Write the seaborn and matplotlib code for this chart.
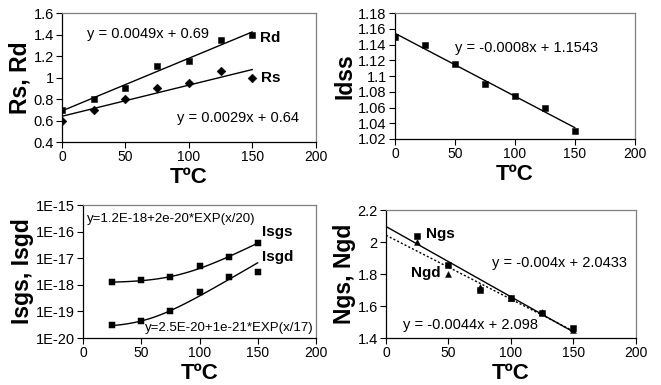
import numpy as np
import pandas as pd
import matplotlib
matplotlib.use("Agg")
import matplotlib.pyplot as plt
import matplotlib.ticker as mticker
import seaborn as sns

# temperatures (deg C)
temp = [0, 25, 50, 75, 100, 125, 150]
temp_ig = [25, 50, 75, 100, 125, 150]

# series
rd = [0.70, 0.80, 0.90, 1.11, 1.15, 1.35, 1.40]
rs = [0.60, 0.70, 0.80, 0.90, 0.95, 1.06, 1.00]
idss = [1.150, 1.140, 1.115, 1.090, 1.075, 1.060, 1.030]
isgs = [1.3e-18, 1.5e-18, 1.9e-18, 5.0e-18, 1.15e-17, 3.7e-17]
isgd = [3.2e-20, 4.2e-20, 1.0e-19, 5.5e-19, 1.9e-18, 3.0e-18]
ngs = [2.04, 1.86, 1.70, 1.65, 1.555, 1.46]
ngd = [2.00, 1.80, 1.72, 1.65, 1.56, 1.45]

sns.set_style("white")
plt.rcParams['font.family'] = ['Liberation Sans', 'DejaVu Sans']
plt.rcParams['text.color'] = 'black'
plt.rcParams['axes.labelcolor'] = 'black'

fig = plt.figure(figsize=(6.61, 3.85), dpi=100)

EQ_SIZE = 10.5


def style_axes(ax, ylabel):
    for side in ['top', 'right']:
        ax.spines[side].set_color('#808080')
    for side in ['left', 'bottom']:
        ax.spines[side].set_color('black')
    for s in ax.spines.values():
        s.set_linewidth(0.9)
    ax.tick_params(direction='out', length=4, width=0.8, pad=2,
                   bottom=True, left=True, colors='black')
    ax.tick_params(axis='x', labelsize=10)
    ax.tick_params(axis='y', labelsize=10.5)
    ax.set_xlim(0, 200)
    ax.set_xticks([0, 50, 100, 150, 200])
    ax.set_xlabel('TºC', fontsize=16, fontweight='bold', labelpad=2)
    ax.set_ylabel(ylabel, fontsize=16.5, fontweight='bold', labelpad=1)
    ax.grid(False)


def fit_line(ax, a, b, x0, x1, ls='-'):
    xs = np.linspace(x0, x1, 50)
    sns.lineplot(x=xs, y=a * xs + b, ax=ax, color='black', lw=1.0,
                 linestyle=ls)


# --- Rs, Rd ---
ax1 = fig.add_axes([0.0938, 0.631, 0.384, 0.335])
fit_line(ax1, 0.0049, 0.69, 0, 150)
fit_line(ax1, 0.0029, 0.64, 0, 150)
sns.scatterplot(x=temp, y=rd, ax=ax1, marker='s', color='black', s=22, edgecolor='black')
sns.scatterplot(x=temp, y=rs, ax=ax1, marker='D', color='black', s=20, edgecolor='black')
ax1.set_ylim(0.4, 1.6)
ax1.set_yticks(np.arange(0.4, 1.61, 0.2))
ax1.yaxis.set_major_formatter(mticker.FormatStrFormatter('%g'))
ax1.text(20, 1.41, 'y = 0.0049x + 0.69', fontsize=EQ_SIZE, va='center')
ax1.text(156, 1.37, 'Rd', fontsize=11, fontweight='bold', va='center')
ax1.text(157, 0.995, 'Rs', fontsize=11, fontweight='bold', va='center')
ax1.text(91, 0.623, 'y = 0.0029x + 0.64', fontsize=EQ_SIZE, va='center')
style_axes(ax1, 'Rs, Rd')

# --- Idss ---
ax2 = fig.add_axes([0.5976, 0.639, 0.363, 0.327])
fit_line(ax2, -0.0008, 1.1543, 0, 150)
sns.scatterplot(x=temp, y=idss, ax=ax2, marker='s', color='black', s=22, edgecolor='black')
ax2.set_ylim(1.02, 1.18)
ax2.set_yticks(np.arange(1.02, 1.181, 0.02))
ax2.yaxis.set_major_formatter(mticker.FormatStrFormatter('%g'))
ax2.text(50, 1.136, 'y = -0.0008x + 1.1543', fontsize=EQ_SIZE, va='center')
style_axes(ax2, 'Idss')

# --- Isgs, Isgd ---
ax3 = fig.add_axes([0.1256, 0.122, 0.3525, 0.345])
xs = np.linspace(25, 150, 80)
sns.lineplot(x=xs, y=1.2e-18 + 2e-20 * np.exp(xs / 20), ax=ax3, color='black', lw=1.0)
sns.lineplot(x=xs, y=2.5e-20 + 1e-21 * np.exp(xs / 17), ax=ax3, color='black', lw=1.0)
sns.scatterplot(x=temp_ig, y=isgs, ax=ax3, marker='s', color='black', s=20, edgecolor='black')
sns.scatterplot(x=temp_ig, y=isgd, ax=ax3, marker='s', color='black', s=20, edgecolor='black')
ax3.set_yscale('log')
ax3.set_ylim(1e-20, 1e-15)
ax3.set_yticks([1e-20, 1e-19, 1e-18, 1e-17, 1e-16, 1e-15])
ax3.yaxis.set_minor_locator(mticker.NullLocator())
ax3.yaxis.set_major_formatter(mticker.FuncFormatter(
    lambda v, p: '1E%d' % int(round(np.log10(v)))))
ax3.text(3, 2.9e-16, 'y=1.2E-18+2e-20*EXP(x/20)', fontsize=9.5, va='center')
ax3.text(154, 9.6e-17, 'Isgs', fontsize=11, fontweight='bold', va='center')
ax3.text(154, 1.1e-17, 'Isgd', fontsize=11, fontweight='bold', va='center')
ax3.text(53, 2.4e-20, 'y=2.5E-20+1e-21*EXP(x/17)', fontsize=9.5, va='center')
style_axes(ax3, 'Isgs, Isgd')

# --- Ngs, Ngd ---
ax4 = fig.add_axes([0.584, 0.122, 0.378, 0.332])
fit_line(ax4, -0.0044, 2.098, 0, 150)
fit_line(ax4, -0.004, 2.0433, 0, 150, ls=(0, (1.5, 1.5)))
sns.scatterplot(x=temp_ig, y=ngd, ax=ax4, marker='^', color='black', s=18, edgecolor='black')
sns.scatterplot(x=temp_ig, y=ngs, ax=ax4, marker='s', color='black', s=22, edgecolor='black')
ax4.set_ylim(1.4, 2.2)
ax4.set_yticks(np.arange(1.4, 2.21, 0.2))
ax4.yaxis.set_major_formatter(mticker.FormatStrFormatter('%g'))
ax4.text(32, 2.05, 'Ngs', fontsize=11, fontweight='bold', va='center')
ax4.text(20, 1.806, 'Ngd', fontsize=11, fontweight='bold', va='center')
ax4.text(85, 1.869, 'y = -0.004x + 2.0433', fontsize=EQ_SIZE, va='center')
ax4.text(13.5, 1.481, 'y = -0.0044x + 2.098', fontsize=EQ_SIZE, va='center')
style_axes(ax4, 'Ngs, Ngd')

fig.savefig('out.png', dpi=100)
